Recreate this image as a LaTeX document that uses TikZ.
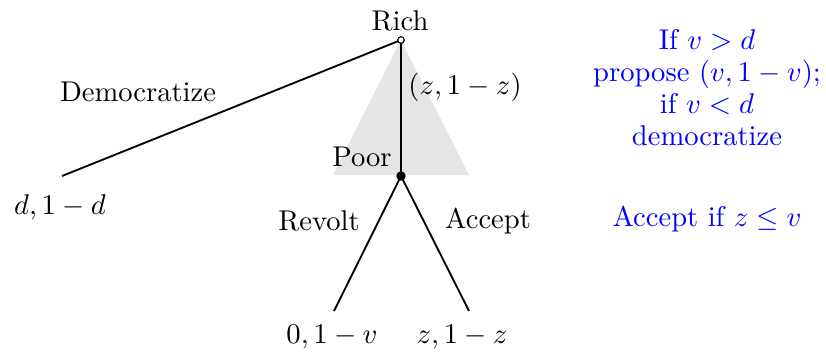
\documentclass[tikz,border=0pt]{standalone}
\begin{document}
\begin{tikzpicture}[x=0.35pt,y=-0.35pt,
  edge/.style={line width=0.65pt},
  lbl/.style={inner sep=0pt},
  bluetxt/.style={inner sep=0pt,text=blue,align=center},
  opendot/.style={circle,draw,fill=white,line width=0.4pt,inner sep=0pt,minimum size=2.3pt},
  fulldot/.style={circle,fill=black,inner sep=0pt,minimum size=3.3pt}]
\useasboundingbox (0,0) rectangle (826,355);
% shaded triangle
\fill[black!10] (401,40) -- (333,175) -- (469,175) -- cycle;
% nodes
\coordinate (rich) at (401,40);
\coordinate (poor) at (401,176);
\coordinate (dem) at (62,176);
\coordinate (rev) at (334,311);
\coordinate (acc) at (469,311);
\draw[edge] (rich) -- (dem);
\draw[edge] (rich) -- (poor);
\draw[edge] (poor) -- (rev);
\draw[edge] (poor) -- (acc);
\node[opendot] (richdot) at (rich) {};
\node[fulldot] (poordot) at (poor) {};
% labels
\node[lbl] (richlbl) at (400,21) {Rich};
\node[lbl] (poorlbl) at (362,157) {Poor};
\node[lbl] (demlbl) at (138,92) {Democratize};
\node[lbl] (dpay) at (60,207) {$d,1-d$};
\node[lbl] (zoff) at (465,87) {$(z,1-z)$};
\node[lbl] (revlbl) at (319,221) {Revolt};
\node[lbl] (acclbl) at (488,221) {Accept};
\node[lbl] (vpay) at (332,337) {$0,1-v$};
\node[lbl] (zpay) at (462,337) {$z,1-z$};
% strategies
\node[bluetxt,font={\fontsize{10}{11.2}\selectfont}] (richstrat) at (707,88) {If $v>d$\\ propose $(v,1-v)$;\\ if $v<d$\\ democratize};
\node[bluetxt] (poorstrat) at (707,219) {Accept if $z\le v$};
\end{tikzpicture}
\end{document}
